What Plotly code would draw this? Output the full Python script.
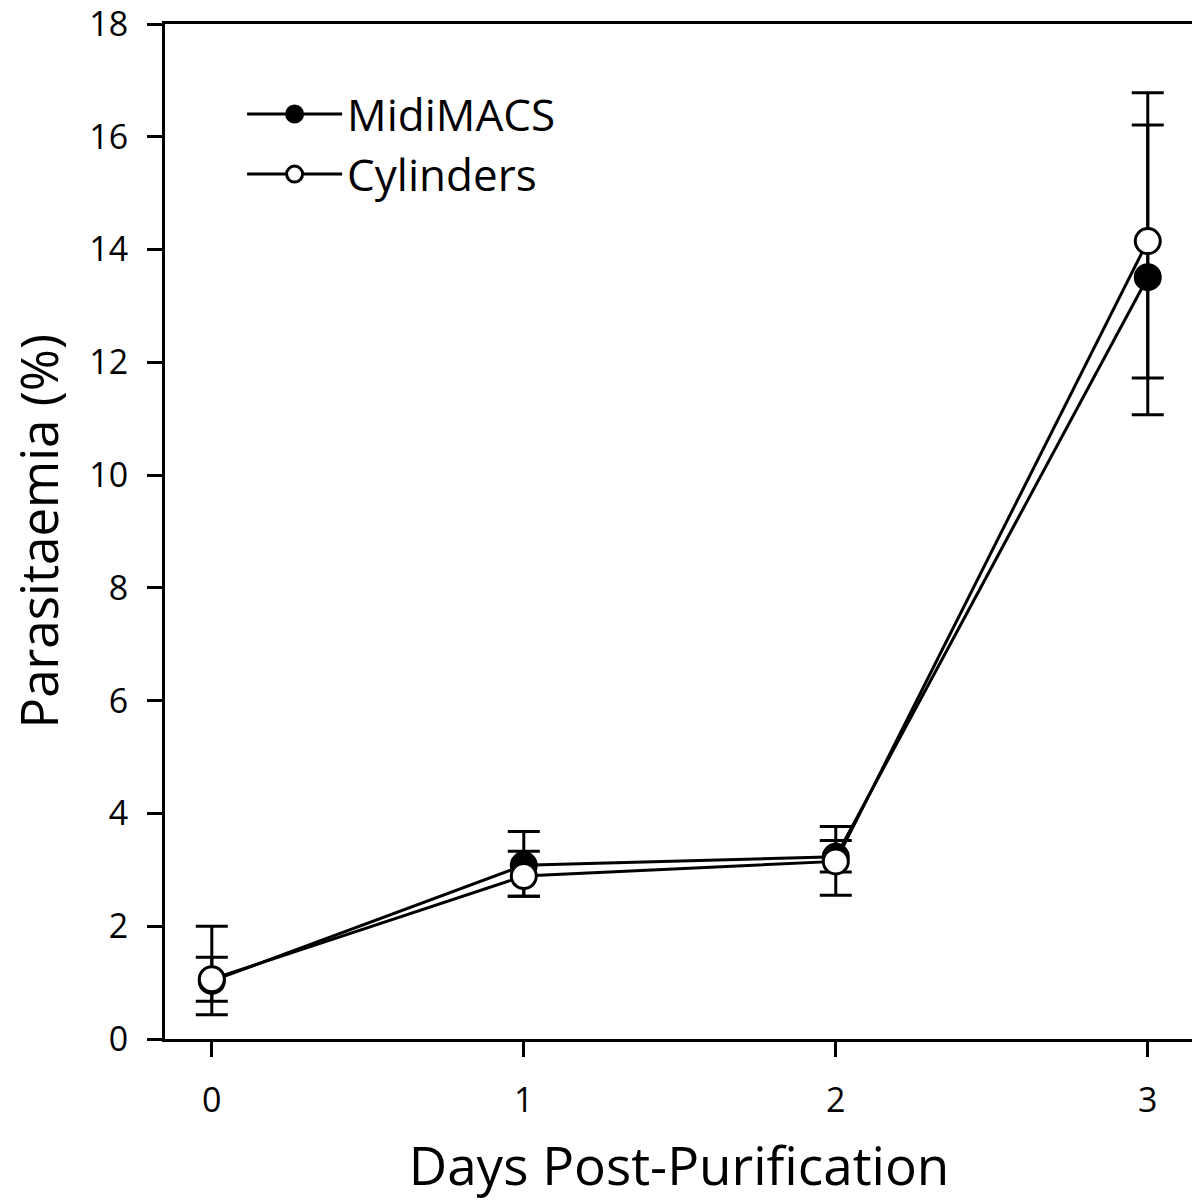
import plotly.graph_objects as go

days = [0, 1, 2, 3]
tick_vals_y = [0, 2, 4, 6, 8, 10, 12, 14, 16, 18]

midi_mean = [1.03, 3.08, 3.23, 13.51]
midi_err_plus = [0.42, 0.60, 0.29, 2.70]
midi_err_minus = [0.36, 0.55, 0.27, 2.44]

cyl_mean = [1.06, 2.89, 3.15, 14.15]
cyl_err_plus = [0.94, 0.44, 0.62, 2.63]
cyl_err_minus = [0.63, 0.36, 0.60, 2.43]

FONT = "Open Sans"

fig = go.Figure()
fig.add_trace(go.Scatter(
    x=days, y=midi_mean, mode="lines+markers", name="MidiMACS",
    line=dict(color="black", width=3),
    marker=dict(symbol="circle", size=25, color="black", line=dict(color="black", width=3)),
    error_y=dict(type="data", symmetric=False, array=midi_err_plus, arrayminus=midi_err_minus,
                 color="black", thickness=3, width=16),
))
fig.add_trace(go.Scatter(
    x=days, y=cyl_mean, mode="lines+markers", name="Cylinders",
    line=dict(color="black", width=3),
    marker=dict(symbol="circle", size=25, color="white", line=dict(color="black", width=3)),
    error_y=dict(type="data", symmetric=False, array=cyl_err_plus, arrayminus=cyl_err_minus,
                 color="black", thickness=3, width=16),
))

fig.update_layout(
    width=1200, height=1200,
    margin=dict(l=157, r=15, t=16, b=169),
    paper_bgcolor="white", plot_bgcolor="white",
    font=dict(family=FONT, color="black", size=34),
    showlegend=True,
    legend=dict(x=0.075, y=0.946, xanchor="left", yanchor="top",
                font=dict(size=44, family=FONT), bgcolor="rgba(0,0,0,0)",
                tracegroupgap=0, itemwidth=95),
    annotations=[dict(
        text="Parasitaemia (%)", textangle=-90, showarrow=False,
        xref="paper", yref="paper", x=0, y=0.5, xanchor="center", yanchor="middle",
        xshift=-128, font=dict(size=51, family=FONT, color="black"),
    )],
)
fig.update_xaxes(
    range=[-0.15, 3.145], tickvals=days, ticktext=[str(d) for d in days],
    showgrid=False, zeroline=False, showline=True, linecolor="black", linewidth=3,
    mirror=True, ticks="outside", ticklen=15, tickwidth=3, tickcolor="black",
    tickfont=dict(size=34), ticklabelstandoff=14, automargin=False,
    ticklabeloverflow="allow",
    title=dict(text="Days Post-Purification", font=dict(size=53), standoff=28),
)
fig.update_yaxes(
    range=[0, 18], tickvals=tick_vals_y,
    showgrid=False, zeroline=False, showline=True, linecolor="black", linewidth=3,
    mirror=True, ticks="outside", ticklen=15, tickwidth=3, tickcolor="black",
    tickfont=dict(size=34), ticklabelstandoff=12, automargin=False,
    ticklabeloverflow="allow",
)

fig.write_html("out.html")
